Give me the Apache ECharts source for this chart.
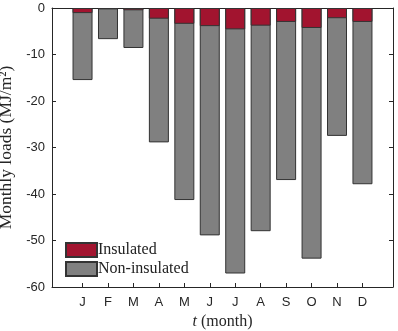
<!DOCTYPE html>
<html><head><meta charset="utf-8">
<script src="https://cdn.jsdelivr.net/npm/echarts@6/dist/echarts.min.js"></script>
<style>html,body{margin:0;padding:0;background:#fff}#c{width:398px;height:331px}</style>
</head><body><div id="c"></div>
<script>
var months = [1,2,3,4,5,6,7,8,9,10,11,12];
var monthLabels = ['J','F','M','A','M','J','J','A','S','O','N','D'];
var insulated = [-1.1,-0.3,-0.5,-2.3,-3.4,-3.9,-4.6,-3.8,-3.0,-4.3,-2.2,-3.0];
var nonInsulated = [-15.5,-6.7,-8.6,-28.9,-41.3,-48.9,-57.1,-48.0,-37.0,-53.9,-27.5,-37.9];
var yTicks = [-60,-50,-40,-30,-20,-10,0];

var chart = echarts.init(document.getElementById('c'));
var axisCol = '#262626';
function pairs(v){ return months.map(function(m,i){ return [m, v[i]]; }); }
function xAx(pos, extra){
  return Object.assign({
    type:'value', min:-0.2, max:13.2, position:pos,
    axisLine:{show:true, onZero:false, lineStyle:{color:axisCol, width:1}},
    axisTick:{show:true, inside:true, length:4, customValues:months, lineStyle:{color:axisCol}},
    splitLine:{show:false}
  }, extra);
}
function yAx(pos, extra){
  return Object.assign({
    type:'value', min:-60, max:0, interval:10, position:pos,
    axisLine:{show:true, onZero:false, lineStyle:{color:axisCol, width:1}},
    axisTick:{show:true, inside:true, length:4, customValues:yTicks, lineStyle:{color:axisCol}},
    splitLine:{show:false}
  }, extra);
}
chart.setOption({
  animation:false,
  grid:{left:52, right:5, top:8, bottom:44, containLabel:false, outerBoundsMode:'none'},
  xAxis:[
    xAx('bottom', {
      axisLabel:{show:true, customValues:months, margin:9, color:axisCol, fontFamily:'Liberation Sans', fontSize:13,
        formatter:function(v){ var i = Math.round(v)-1; return monthLabels[i] || ''; }},
      name:'{i|t} (month)', nameLocation:'middle', nameGap:22,
      nameTextStyle:{fontFamily:'Liberation Serif', fontSize:16, color:axisCol,
        rich:{i:{fontStyle:'italic', fontFamily:'Liberation Serif', fontSize:16, color:axisCol}}}
    }),
    xAx('top', {axisLabel:{show:false}})
  ],
  yAxis:[
    yAx('left', {
      axisLabel:{margin:7, color:axisCol, fontFamily:'Liberation Sans', fontSize:13},
      name:'Monthly loads (MJ/m\u00B2)', nameLocation:'middle', nameGap:30, nameRotate:90,
      nameTextStyle:{fontFamily:'Liberation Serif', fontSize:17.5, color:axisCol}
    }),
    yAx('right', {axisLabel:{show:false}})
  ],
  legend:{
    data:['Insulated','Non-insulated'], orient:'vertical', left:65, top:242, padding:0,
    itemWidth:31, itemHeight:14, itemGap:3,
    textStyle:{fontFamily:'Liberation Serif', fontSize:16, color:'#222', padding:[0,0,0,-4]},
    icon:'rect'
  },
  series:[
    {name:'Non-insulated', type:'bar', data:pairs(nonInsulated), barWidth:20, barGap:'-100%',
      itemStyle:{color:'#808080', borderColor:'#333', borderWidth:1}},
    {name:'Insulated', type:'bar', data:pairs(insulated), barWidth:20, barGap:'-100%', z:3,
      itemStyle:{color:'#A2142F', borderColor:'#333', borderWidth:1}}
  ]
});
</script></body></html>
